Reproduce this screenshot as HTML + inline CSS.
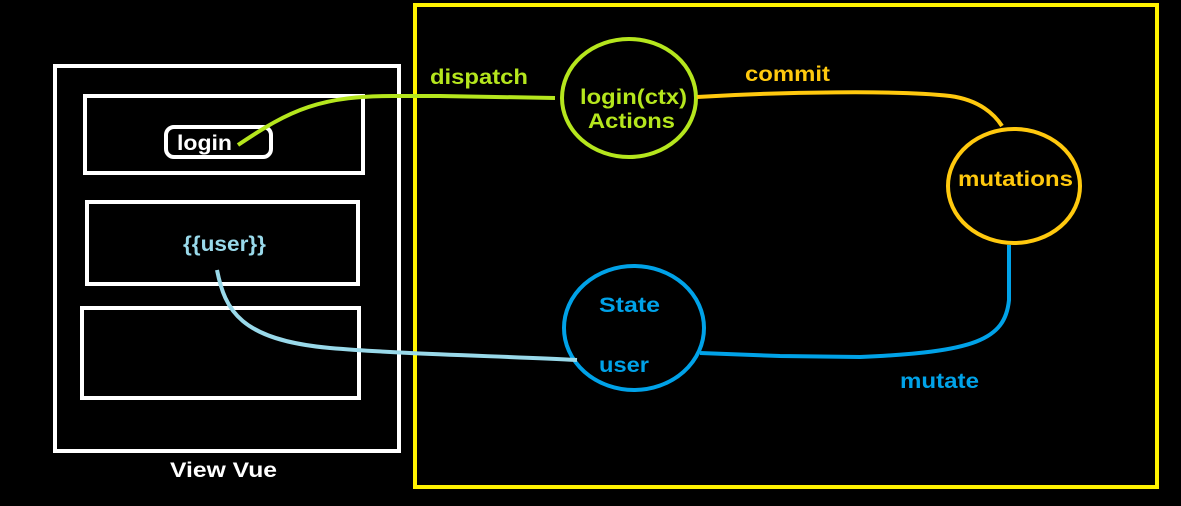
<!DOCTYPE html>
<html><head><style>body{margin:0;background:#000;}svg{display:block}text{font-family:"Liberation Sans",sans-serif;font-weight:bold;font-size:21px}</style></head>
<body>
<svg width="1181" height="506" viewBox="0 0 1181 506">
<rect x="0" y="0" width="1181" height="506" fill="#000"/>
<rect x="415" y="5" width="742" height="482" fill="none" stroke="#fff200" stroke-width="4"/>
<rect x="55" y="66" width="344" height="385" fill="none" stroke="#fff" stroke-width="4"/>
<rect x="85" y="96" width="278" height="77" fill="none" stroke="#fff" stroke-width="4"/>
<rect x="87" y="202" width="271" height="82" fill="none" stroke="#fff" stroke-width="4"/>
<rect x="82" y="308" width="277" height="90" fill="none" stroke="#fff" stroke-width="4"/>
<rect x="166" y="127" width="105" height="30" rx="8" fill="none" stroke="#fff" stroke-width="4"/>
<text x="177" y="150" fill="#fff" textLength="55" lengthAdjust="spacingAndGlyphs">login</text>
<text x="183" y="251" fill="#99d9ea" textLength="83" lengthAdjust="spacingAndGlyphs">{{user}}</text>
<text x="170" y="477" fill="#fff" textLength="107" lengthAdjust="spacingAndGlyphs">View Vue</text>
<path d="M238,145 C290,110 320,95 400,96 L440,96 L555,98" fill="none" stroke="#b5e61d" stroke-width="4"/>
<text x="430" y="84" fill="#b5e61d" textLength="98" lengthAdjust="spacingAndGlyphs">dispatch</text>
<ellipse cx="629" cy="98" rx="67" ry="59" fill="none" stroke="#b5e61d" stroke-width="4"/>
<text x="580" y="104" fill="#b5e61d" textLength="107" lengthAdjust="spacingAndGlyphs">login(ctx)</text>
<text x="588" y="128" fill="#b5e61d" textLength="87" lengthAdjust="spacingAndGlyphs">Actions</text>
<path d="M697,97 C780,92 900,90 950,96 C980,100 995,115 1002,126" fill="none" stroke="#ffc90e" stroke-width="4"/>
<text x="745" y="81" fill="#ffc90e" textLength="85" lengthAdjust="spacingAndGlyphs">commit</text>
<ellipse cx="1014" cy="186" rx="66" ry="57" fill="none" stroke="#ffc90e" stroke-width="4"/>
<text x="958" y="186" fill="#ffc90e" textLength="115" lengthAdjust="spacingAndGlyphs">mutations</text>
<path d="M1009,245 L1009,300 C1005,340 975,352 860,357 L780,356 L700,353" fill="none" stroke="#00a2e8" stroke-width="4"/>
<text x="900" y="388" fill="#00a2e8" textLength="79" lengthAdjust="spacingAndGlyphs">mutate</text>
<ellipse cx="634" cy="328" rx="70" ry="62" fill="none" stroke="#00a2e8" stroke-width="4"/>
<text x="599" y="312" fill="#00a2e8" textLength="61" lengthAdjust="spacingAndGlyphs">State</text>
<text x="599" y="372" fill="#00a2e8" textLength="50" lengthAdjust="spacingAndGlyphs">user</text>
<path d="M217,270 C225,310 240,340 330,348 C400,354 500,356 577,360" fill="none" stroke="#99d9ea" stroke-width="4"/>
</svg>
</body></html>
